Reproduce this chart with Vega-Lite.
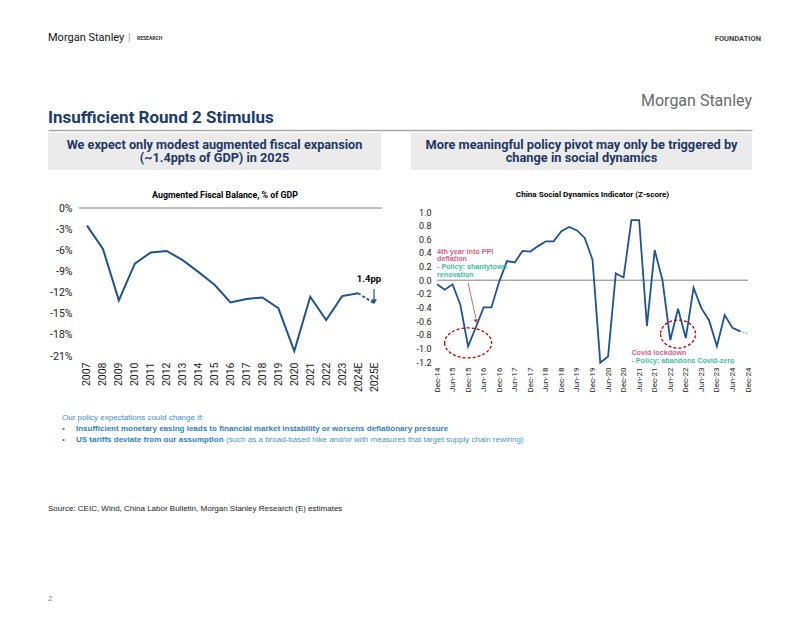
{
  "$schema": "https://vega.github.io/schema/vega-lite/v6.json",
  "background": "white",
  "padding": {"left": 48, "top": 30, "right": 10, "bottom": 0},
  "config": {
    "view": {"stroke": null},
    "font": "Liberation Sans Narrow, Roboto, sans-serif",
    "axis": {"grid": false, "ticks": false, "domain": false, "labelColor": "#222", "labelOverlap": false}
  },
  "datasets": {
    "fiscal": [
      {"year": "2007", "v": -2.5}, {"year": "2008", "v": -5.8}, {"year": "2009", "v": -13.1},
      {"year": "2010", "v": -7.9}, {"year": "2011", "v": -6.3}, {"year": "2012", "v": -6.1},
      {"year": "2013", "v": -7.4}, {"year": "2014", "v": -9.1}, {"year": "2015", "v": -10.9},
      {"year": "2016", "v": -13.4}, {"year": "2017", "v": -12.9}, {"year": "2018", "v": -12.7},
      {"year": "2019", "v": -14.2}, {"year": "2020", "v": -20.3}, {"year": "2021", "v": -12.6},
      {"year": "2022", "v": -15.9}, {"year": "2023", "v": -12.5}, {"year": "2024E", "v": -12.1}
    ],
    "fiscal_fc": [
      {"year": "2024E", "v": -12.1}, {"year": "2025E", "v": -13.5}
    ],
    "social": [
      {"q": "Dec-14", "v": -0.06}, {"q": "Mar-15", "v": -0.14}, {"q": "Jun-15", "v": -0.06},
      {"q": "Sep-15", "v": -0.36}, {"q": "Dec-15", "v": -0.97}, {"q": "Mar-16", "v": -0.69},
      {"q": "Jun-16", "v": -0.40}, {"q": "Sep-16", "v": -0.40}, {"q": "Dec-16", "v": -0.02},
      {"q": "Mar-17", "v": 0.28}, {"q": "Jun-17", "v": 0.26}, {"q": "Sep-17", "v": 0.43},
      {"q": "Dec-17", "v": 0.42}, {"q": "Mar-18", "v": 0.50}, {"q": "Jun-18", "v": 0.57},
      {"q": "Sep-18", "v": 0.57}, {"q": "Dec-18", "v": 0.72}, {"q": "Mar-19", "v": 0.78},
      {"q": "Jun-19", "v": 0.73}, {"q": "Sep-19", "v": 0.62}, {"q": "Dec-19", "v": 0.30},
      {"q": "Mar-20", "v": -1.21}, {"q": "Jun-20", "v": -1.12}, {"q": "Sep-20", "v": 0.10},
      {"q": "Dec-20", "v": 0.04}, {"q": "Mar-21", "v": 0.88}, {"q": "Jun-21", "v": 0.88},
      {"q": "Sep-21", "v": -0.67}, {"q": "Dec-21", "v": 0.44}, {"q": "Mar-22", "v": 0.0},
      {"q": "Jun-22", "v": -0.88}, {"q": "Sep-22", "v": -0.42}, {"q": "Dec-22", "v": -0.85},
      {"q": "Mar-23", "v": -0.11}, {"q": "Jun-23", "v": -0.41}, {"q": "Sep-23", "v": -0.59},
      {"q": "Dec-23", "v": -0.97}, {"q": "Mar-24", "v": -0.51}, {"q": "Jun-24", "v": -0.70},
      {"q": "Sep-24", "v": -0.75}
    ],
    "social_fc": [
      {"q": "Sep-24", "v": -0.75}, {"q": "Dec-24", "v": -0.79}
    ]
  },
  "spacing": 3,
  "vconcat": [
    {
      "width": 704,
      "height": 100,
      "layer": [
        {
          "data": {"values": [{"t": "Morgan Stanley"}]},
          "mark": {"type": "text", "align": "left", "baseline": "middle", "dy": -42, "fontSize": 11, "color": "#111"},
          "encoding": {
            "x": {"datum": 0, "type": "quantitative", "scale": {"domain": [0, 1]},
                  "axis": {"labels": false, "title": null, "domain": true, "domainColor": "#a6a6a6", "domainWidth": 1.5}},
            "text": {"field": "t"}
          }
        },
        {
          "data": {"values": [{"t": "|"}]},
          "mark": {"type": "text", "align": "left", "baseline": "middle", "dy": -42, "dx": 80, "fontSize": 10, "color": "#999"},
          "encoding": {"x": {"datum": 0, "type": "quantitative"}, "text": {"field": "t"}}
        },
        {
          "data": {"values": [{"t": "RESEARCH"}]},
          "mark": {"type": "text", "align": "left", "baseline": "middle", "dy": -42, "dx": 89, "fontSize": 5, "fontWeight": "bold", "color": "#333"},
          "encoding": {"x": {"datum": 0, "type": "quantitative"}, "text": {"field": "t"}}
        },
        {
          "data": {"values": [{"t": "FOUNDATION"}]},
          "mark": {"type": "text", "align": "right", "baseline": "middle", "dy": -41.5, "dx": 9, "fontSize": 7.5, "fontWeight": "bold", "color": "#444"},
          "encoding": {"x": {"datum": 1, "type": "quantitative"}, "text": {"field": "t"}}
        },
        {
          "data": {"values": [{"t": "Morgan Stanley"}]},
          "mark": {"type": "text", "align": "right", "baseline": "middle", "dy": 21, "fontSize": 16, "color": "#6b6b6b"},
          "encoding": {"x": {"datum": 1, "type": "quantitative"}, "text": {"field": "t"}}
        },
        {
          "data": {"values": [{"t": "Insufficient Round 2 Stimulus"}]},
          "mark": {"type": "text", "align": "left", "baseline": "middle", "dy": 38, "fontSize": 17, "fontWeight": "bold", "color": "#1d3c6e"},
          "encoding": {"x": {"datum": 0, "type": "quantitative"}, "text": {"field": "t"}}
        }
      ]
    },
    {
      "spacing": 20,
      "vconcat": [
        {
          "spacing": 30,
          "hconcat": [
            {
              "width": 333,
              "height": 37,
              "view": {"fill": "#ebebeb", "stroke": null},
              "data": {"values": [{"t": "We expect only modest augmented fiscal expansion\n(~1.4ppts of GDP) in 2025"}]},
              "mark": {"type": "text", "lineBreak": "\n", "lineHeight": 13.5, "fontSize": 12.7, "fontWeight": "bold", "color": "#1f3864", "baseline": "line-bottom"},
              "encoding": {"text": {"field": "t"}}
            },
            {
              "width": 341,
              "height": 37,
              "view": {"fill": "#ebebeb", "stroke": null},
              "data": {"values": [{"t": "More meaningful policy pivot may only be triggered by\nchange in social dynamics"}]},
              "mark": {"type": "text", "lineBreak": "\n", "lineHeight": 13.5, "fontSize": 12.8, "fontWeight": "bold", "color": "#1f3864", "baseline": "line-bottom"},
              "encoding": {"text": {"field": "t"}}
            }
          ]
        },
        {
          "spacing": 20,
          "vconcat": [
            {
              "spacing": 33,
              "hconcat": [
                {
                  "width": 334,
                  "height": 148,
                  "title": {"text": "Augmented Fiscal Balance, % of GDP", "fontSize": 8.8, "fontWeight": "bold", "color": "#000", "offset": 3, "dx": 10, "frame": "group"},
                  "resolve": {"scale": {"x": "independent"}},
                  "layer": [
                    {
                      "data": {"values": [{"ref": "zero"}]},
                      "mark": {"type": "rule", "color": "#7f7f7f", "strokeWidth": 1},
                      "encoding": {
                        "x": {"datum": 0, "type": "quantitative", "scale": {"domain": [0, 1], "range": [31, 334]}, "axis": null},
                        "x2": {"datum": 1},
                        "y": {"datum": 0, "type": "quantitative"}
                      }
                    },
                    {
                      "layer": [
                        {
                          "data": {"name": "fiscal"},
                          "mark": {"type": "line", "color": "#1f5393", "strokeWidth": 2},
                          "encoding": {
                            "x": {"field": "year", "type": "ordinal",
                                  "scale": {"type": "point", "padding": 0.5, "range": [31, 334],
                                            "domain": ["2007","2008","2009","2010","2011","2012","2013","2014","2015","2016","2017","2018","2019","2020","2021","2022","2023","2024E","2025E"]},
                                  "axis": {"title": null, "labelAngle": -90, "labelFontSize": 10.5, "labelPadding": 6, "labelOverlap": false}},
                            "y": {"field": "v", "type": "quantitative",
                                  "scale": {"domain": [-21, 0], "nice": false, "zero": false},
                                  "axis": {"title": null, "values": [0, -3, -6, -9, -12, -15, -18, -21], "tickCount": 20, "labelExpr": "datum.value + '%'", "labelFontSize": 10.5, "labelPadding": 7, "offset": -31, "minExtent": 0, "labelOverlap": false}}
                          }
                        },
                        {
                          "data": {"name": "fiscal_fc"},
                          "mark": {"type": "line", "color": "#1f5393", "strokeWidth": 1.8, "strokeDash": [3, 2]},
                          "encoding": {
                            "x": {"field": "year", "type": "ordinal"},
                            "y": {"field": "v", "type": "quantitative"}
                          }
                        },
                        {
                          "data": {"values": [{"t": "1.4pp"}]},
                          "mark": {"type": "text", "fontWeight": "bold", "fontSize": 9.5, "color": "#000", "dx": -5},
                          "encoding": {
                            "x": {"datum": "2025E", "type": "ordinal"},
                            "y": {"datum": -10.1, "type": "quantitative"},
                            "text": {"field": "t"}
                          }
                        },
                        {
                          "data": {"values": [{"ref": "arrow"}]},
                          "mark": {"type": "rule", "color": "#1f5393", "strokeWidth": 1.2},
                          "encoding": {
                            "x": {"datum": "2025E", "type": "ordinal"},
                            "y": {"datum": -11.5, "type": "quantitative"},
                            "y2": {"datum": -13.0}
                          }
                        },
                        {
                          "data": {"values": [{"ref": "arrowhead"}]},
                          "mark": {"type": "point", "shape": "triangle-down", "filled": true, "size": 34, "color": "#1f5393", "opacity": 1},
                          "encoding": {
                            "x": {"datum": "2025E", "type": "ordinal"},
                            "y": {"datum": -13.3, "type": "quantitative"}
                          }
                        }
                      ]
                    }
                  ]
                },
                {
                  "width": 311,
                  "height": 154,
                  "title": {"text": "China Social Dynamics Indicator (Z-score)", "fontSize": 8.1, "fontWeight": "bold", "color": "#000", "offset": 9, "frame": "group"},
                  "layer": [
                    {
                      "data": {"values": [{"ref": "zero"}]},
                      "mark": {"type": "rule", "color": "#808080", "strokeWidth": 1},
                      "encoding": {"y": {"datum": 0, "type": "quantitative"}}
                    },
                    {
                      "data": {"name": "social"},
                      "mark": {"type": "line", "color": "#1f5393", "strokeWidth": 1.8},
                      "encoding": {
                        "x": {"field": "q", "type": "ordinal",
                              "scale": {"type": "point", "padding": 0,
                                        "domain": ["Dec-14","Mar-15","Jun-15","Sep-15","Dec-15","Mar-16","Jun-16","Sep-16","Dec-16","Mar-17","Jun-17","Sep-17","Dec-17","Mar-18","Jun-18","Sep-18","Dec-18","Mar-19","Jun-19","Sep-19","Dec-19","Mar-20","Jun-20","Sep-20","Dec-20","Mar-21","Jun-21","Sep-21","Dec-21","Mar-22","Jun-22","Sep-22","Dec-22","Mar-23","Jun-23","Sep-23","Dec-23","Mar-24","Jun-24","Sep-24","Dec-24"]},
                              "axis": {"title": null, "labelAngle": -90, "labelFontSize": 8, "labelPadding": 5, "labelOverlap": false,
                                       "values": ["Dec-14","Jun-15","Dec-15","Jun-16","Dec-16","Jun-17","Dec-17","Jun-18","Dec-18","Jun-19","Dec-19","Jun-20","Dec-20","Jun-21","Dec-21","Jun-22","Dec-22","Jun-23","Dec-23","Jun-24","Dec-24"]}},
                        "y": {"field": "v", "type": "quantitative",
                              "scale": {"domain": [-1.2, 1.059], "nice": false, "zero": false},
                              "axis": {"title": null, "values": [1.0, 0.8, 0.6, 0.4, 0.2, 0.0, -0.2, -0.4, -0.6, -0.8, -1.0, -1.2], "tickCount": 20, "labelOverlap": false,
                                       "labelExpr": "replace(format(datum.value, '.1f'), '−', '-')", "labelFontSize": 9, "labelPadding": 6, "minExtent": 19}}
                      }
                    },
                    {
                      "data": {"name": "social_fc"},
                      "mark": {"type": "line", "color": "#8fb0d8", "strokeWidth": 1.5, "strokeDash": [1.5, 1.5]},
                      "encoding": {
                        "x": {"field": "q", "type": "ordinal"},
                        "y": {"field": "v", "type": "quantitative"}
                      }
                    },
                    {
                      "data": {"values": [{"ref": "ellipse1"}]},
                      "mark": {"type": "point", "shape": "M -1 0 A 1 0.64 0 1 0 1 0 A 1 0.64 0 1 0 -1 0 Z", "size": 2209, "filled": false, "stroke": "#c00000", "strokeWidth": 1.3, "strokeDash": [3, 2], "opacity": 1},
                      "encoding": {
                        "x": {"datum": "Dec-15", "type": "ordinal"},
                        "y": {"datum": -0.92, "type": "quantitative"}
                      }
                    },
                    {
                      "data": {"values": [{"ref": "ellipse2"}]},
                      "mark": {"type": "point", "shape": "M -1 0 A 1 0.8 0 1 0 1 0 A 1 0.8 0 1 0 -1 0 Z", "size": 1225, "filled": false, "stroke": "#c00000", "strokeWidth": 1.3, "strokeDash": [3, 2], "opacity": 1},
                      "encoding": {
                        "x": {"datum": "Sep-22", "type": "ordinal"},
                        "y": {"datum": -0.79, "type": "quantitative"}
                      }
                    },
                    {
                      "data": {"values": [{"ref": "arrow"}]},
                      "mark": {"type": "rule", "color": "#e06666", "strokeWidth": 1},
                      "encoding": {
                        "x": {"datum": "Dec-15", "type": "ordinal"},
                        "x2": {"datum": "Mar-16"},
                        "y": {"datum": -0.04, "type": "quantitative"},
                        "y2": {"datum": -0.56}
                      }
                    },
                    {
                      "data": {"values": [{"ref": "arrowhead"}]},
                      "mark": {"type": "point", "shape": "triangle-down", "filled": true, "size": 18, "color": "#d03030", "angle": 349, "opacity": 1},
                      "encoding": {
                        "x": {"datum": "Mar-16", "type": "ordinal"},
                        "y": {"datum": -0.6, "type": "quantitative"}
                      }
                    },
                    {
                      "data": {"values": [{"t": "4th year into PPI\ndeflation"}]},
                      "mark": {"type": "text", "font": "Liberation Sans, Arial, sans-serif", "lineBreak": "\n", "lineHeight": 7.6, "fontSize": 7.2, "fontWeight": "bold", "color": "#cf5f8a", "align": "left", "baseline": "line-bottom"},
                      "encoding": {
                        "x": {"datum": "Dec-14", "type": "ordinal"},
                        "y": {"datum": 0.36, "type": "quantitative"},
                        "text": {"field": "t"}
                      }
                    },
                    {
                      "data": {"values": [{"t": "- Policy: shantytown\nrenovation"}]},
                      "mark": {"type": "text", "font": "Liberation Sans, Arial, sans-serif", "lineBreak": "\n", "lineHeight": 7.6, "fontSize": 7.2, "fontWeight": "bold", "color": "#40bf9f", "align": "left", "baseline": "line-bottom"},
                      "encoding": {
                        "x": {"datum": "Dec-14", "type": "ordinal"},
                        "y": {"datum": 0.13, "type": "quantitative"},
                        "text": {"field": "t"}
                      }
                    },
                    {
                      "data": {"values": [{"t": "Covid lockdown"}]},
                      "mark": {"type": "text", "font": "Liberation Sans, Arial, sans-serif", "fontSize": 7.2, "fontWeight": "bold", "color": "#cf5f8a", "align": "left", "baseline": "middle"},
                      "encoding": {
                        "x": {"datum": "Mar-21", "type": "ordinal"},
                        "y": {"datum": -1.066, "type": "quantitative"},
                        "text": {"field": "t"}
                      }
                    },
                    {
                      "data": {"values": [{"t": "- Policy: abandons Covid-zero"}]},
                      "mark": {"type": "text", "font": "Liberation Sans, Arial, sans-serif", "fontSize": 7.2, "fontWeight": "bold", "color": "#40bf9f", "align": "left", "baseline": "middle"},
                      "encoding": {
                        "x": {"datum": "Mar-21", "type": "ordinal"},
                        "y": {"datum": -1.18, "type": "quantitative"},
                        "text": {"field": "t"}
                      }
                    }
                  ]
                }
              ]
            },
            {
              "spacing": 0,
              "vconcat": [
                {
                  "width": 704,
                  "height": 11,
                  "data": {"values": [{"t": "Our policy expectations could change if:"}]},
                  "mark": {"type": "text", "font": "Liberation Sans, Arial, sans-serif", "align": "left", "baseline": "middle", "dx": 14, "fontSize": 8, "color": "#3b8ccb"},
                  "encoding": {"x": {"datum": 0, "type": "quantitative", "scale": {"domain": [0, 1]}, "axis": null}, "text": {"field": "t"}}
                },
                {
                  "width": 704,
                  "height": 11,
                  "layer": [
                    {
                      "data": {"values": [{"t": "•"}]},
                      "mark": {"type": "text", "font": "Liberation Sans, Arial, sans-serif", "align": "left", "baseline": "middle", "dx": 14, "fontSize": 8, "color": "#2f7fc1"},
                      "encoding": {"x": {"datum": 0, "type": "quantitative", "scale": {"domain": [0, 1]}, "axis": null}, "text": {"field": "t"}}
                    },
                    {
                      "data": {"values": [{"t": "Insufficient monetary easing leads to financial market instability or worsens deflationary pressure"}]},
                      "mark": {"type": "text", "font": "Liberation Sans, Arial, sans-serif", "align": "left", "baseline": "middle", "dx": 28, "fontSize": 8, "fontWeight": "bold", "color": "#2f7fc1"},
                      "encoding": {"x": {"datum": 0, "type": "quantitative"}, "text": {"field": "t"}}
                    }
                  ]
                },
                {
                  "width": 704,
                  "height": 11,
                  "layer": [
                    {
                      "data": {"values": [{"t": "•"}]},
                      "mark": {"type": "text", "font": "Liberation Sans, Arial, sans-serif", "align": "left", "baseline": "middle", "dx": 14, "fontSize": 8, "color": "#2f7fc1"},
                      "encoding": {"x": {"datum": 0, "type": "quantitative", "scale": {"domain": [0, 1]}, "axis": null}, "text": {"field": "t"}}
                    },
                    {
                      "data": {"values": [{"t": "US tariffs deviate from our assumption"}]},
                      "mark": {"type": "text", "font": "Liberation Sans, Arial, sans-serif", "align": "left", "baseline": "middle", "dx": 28, "fontSize": 8, "fontWeight": "bold", "color": "#2f7fc1"},
                      "encoding": {"x": {"datum": 0, "type": "quantitative"}, "text": {"field": "t"}}
                    },
                    {
                      "data": {"values": [{"t": "(such as a broad-based hike and/or with measures that target supply chain rewiring)"}]},
                      "mark": {"type": "text", "font": "Liberation Sans, Arial, sans-serif", "align": "left", "baseline": "middle", "dx": 178, "fontSize": 8, "color": "#4a93cc"},
                      "encoding": {"x": {"datum": 0, "type": "quantitative"}, "text": {"field": "t"}}
                    }
                  ]
                },
                {
                  "width": 704,
                  "height": 127,
                  "data": {"values": [{"t": "Source: CEIC, Wind, China Labor Bulletin, Morgan Stanley Research (E) estimates"}]},
                  "mark": {"type": "text", "font": "Liberation Sans, Arial, sans-serif", "align": "left", "baseline": "middle", "fontSize": 8, "color": "#1a1a1a"},
                  "encoding": {"x": {"datum": 0, "type": "quantitative", "scale": {"domain": [0, 1]}, "axis": null}, "text": {"field": "t"}}
                },
                {
                  "width": 704,
                  "height": 53,
                  "data": {"values": [{"t": "2"}]},
                  "mark": {"type": "text", "font": "Liberation Sans, Arial, sans-serif", "align": "left", "baseline": "middle", "fontSize": 8, "color": "#8a8a8a"},
                  "encoding": {"x": {"datum": 0, "type": "quantitative", "scale": {"domain": [0, 1]}, "axis": null}, "text": {"field": "t"}}
                }
              ]
            }
          ]
        }
      ]
    }
  ]
}
